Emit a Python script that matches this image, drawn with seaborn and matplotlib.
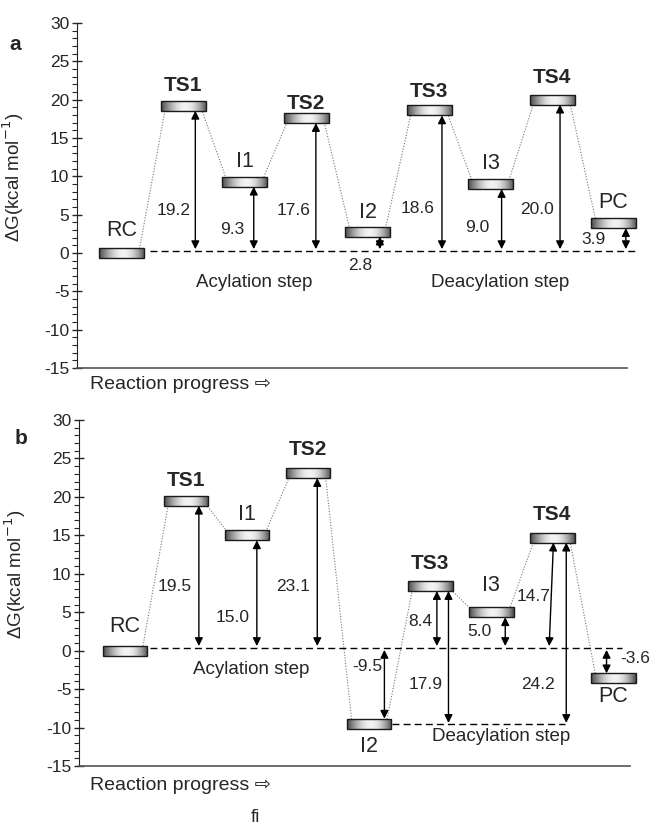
import numpy as np
import matplotlib
matplotlib.use("Agg")
import matplotlib.pyplot as plt
import seaborn as sns
from matplotlib.patches import Rectangle

# species along the reaction coordinate
species = ["RC", "TS1", "I1", "TS2", "I2", "TS3", "I3", "TS4", "PC"]

# free energies (kcal/mol) for the two panels
energy_a = [0.0, 19.2, 9.3, 17.6, 2.8, 18.6, 9.0, 20.0, 3.9]
energy_b = [0.0, 19.5, 15.0, 23.1, -9.5, 8.4, 5.0, 14.7, -3.6]

# extra barriers in panel b measured from I2
barrier_species_b = ["TS3", "TS4"]
barrier_values_b = [17.9, 24.2]

step_labels = ["Acylation step", "Deacylation step"]

sns.set_style("ticks")
plt.rcParams["font.family"] = ["Liberation Sans", "DejaVu Sans"]
plt.rcParams["axes.unicode_minus"] = False

fig = plt.figure(figsize=(6.5, 8.27), dpi=100)
ax_a = fig.add_axes([77 / 650, 1 - 368 / 827, 563 / 650, 345 / 827])
ax_b = fig.add_axes([79 / 650, 1 - 766 / 827, 566 / 650, 346 / 827])

HW = 0.366   # half width of a level bar
HH = 0.65    # half height of a level bar

t = np.linspace(0, 1, 64)
shade = 0.3 + 0.65 * np.sin(np.pi * t ** 1.1) ** 0.9
grad = shade[np.newaxis, :]


def draw_level(ax, x, y):
    ax.imshow(grad, extent=[x - HW, x + HW, y - HH, y + HH], aspect="auto",
              cmap="gray", vmin=0, vmax=1, zorder=3, interpolation="bilinear")
    ax.add_patch(Rectangle((x - HW, y - HH), 2 * HW, 2 * HH, fill=False,
                           edgecolor="#1a1a1a", lw=1.0, zorder=4))


def arrow(ax, x0, y0, x1, y1):
    ax.annotate("", xy=(x1, y1), xytext=(x0, y0),
                arrowprops=dict(arrowstyle="<|-|>", color="black", lw=1.0,
                                mutation_scale=12, shrinkA=0, shrinkB=0),
                zorder=5)


def setup(ax, xlim, spine_end):
    ax.set_xlim(*xlim)
    ax.set_ylim(-15, 30)
    ax.set_yticks(np.arange(-15, 31, 5))
    ax.set_yticks(np.arange(-15, 31, 1), minor=True)
    ax.set_xticks([])
    ax.tick_params(axis="y", which="major", direction="inout", length=7,
                   width=1, labelsize=12.5, pad=2)
    ax.tick_params(axis="y", which="minor", direction="out", length=3.5, width=0.8)
    for s in ["top", "right"]:
        ax.spines[s].set_visible(False)
    ax.spines["left"].set_color("#222222")
    ax.spines["bottom"].set_color("#555555")
    ax.spines["bottom"].set_linewidth(1.2)
    ax.spines["bottom"].set_bounds(xlim[0], spine_end)
    ax.set_ylabel("ΔG(kcal mol$^{-1}$)", fontsize=13.5)


def draw_panel(ax, energy, name_y):
    xs = np.arange(len(species))
    px, py = [], []
    for x, e in zip(xs, energy):
        px += [x - 0.28, x + 0.28]
        py += [e, e]
    sns.lineplot(x=px, y=py, ax=ax, sort=False, estimator=None, color="#777777",
                 lw=0.8, linestyle=(0, (1, 1.5)), zorder=1)
    for x, e, name, ny in zip(xs, energy, species, name_y):
        draw_level(ax, x, e)
        bold = name.startswith("TS")
        ax.text(x, ny, name, ha="center", va="center",
                fontsize=15 if bold else 15.5,
                fontweight="bold" if bold else "normal", zorder=6)


# ---------------- panel a ----------------
setup(ax_a, (-0.724, 8.43), 8.22)
name_y_a = [3.0, 21.9, 11.9, 19.5, 5.3, 21.1, 11.7, 22.9, 6.6]
draw_panel(ax_a, energy_a, name_y_a)
ax_a.plot([0.46, 8.35], [0.3, 0.3], color="black", lw=1.0,
          linestyle=(0, (5, 3)), zorder=2)
arrow_dx_a = [0.2, 0.15, 0.16, 0.2, 0.21, 0.18, 0.13, 0.2]
val_pos_a = [(0.84, 5.6), (1.8, 3.1), (2.8, 5.5), (3.88, -1.6), (4.82, 5.8),
             (5.78, 3.3), (6.76, 5.7), (7.68, 1.8)]
for i, (dx, (tx, ty)) in enumerate(zip(arrow_dx_a, val_pos_a), start=1):
    e = energy_a[i]
    arrow(ax_a, i + dx, 0.5, i + dx, e - HH)
    ax_a.text(tx, ty, f"{e:.1f}", ha="center", va="center", fontsize=12.5, zorder=6)
ax_a.text(2.15, -3.9, step_labels[0], ha="center", va="center", fontsize=13.5)
ax_a.text(6.15, -3.9, step_labels[1], ha="center", va="center", fontsize=13.5)
ax_a.text(0.023, -0.049, "Reaction progress ⇨", transform=ax_a.transAxes,
          ha="left", va="center", fontsize=14)

# ---------------- panel b ----------------
setup(ax_b, (-0.754, 8.52), 8.28)
name_y_b = [3.1, 22.1, 17.7, 26.1, -12.5, 11.3, 8.5, 17.7, -5.9]
draw_panel(ax_b, energy_b, name_y_b)
e_i2 = energy_b[species.index("I2")]
ax_b.plot([0.41, 8.15], [0.3, 0.3], color="black", lw=1.0,
          linestyle=(0, (5, 3)), zorder=2)
ax_b.plot([4.38, 7.21], [e_i2, e_i2], color="black", lw=1.0,
          linestyle=(0, (5, 3)), zorder=2)

arrow_x_b = [(1.21, 1.21), (2.16, 2.16), (3.15, 3.15), (4.25, 4.25),
             (5.11, 5.11), (6.23, 6.23), (6.95, 7.02), (7.89, 7.89)]
val_pos_b = [(0.82, 8.3), (1.77, 4.3), (2.75, 8.3), (3.97, -2.1), (4.84, 3.8),
             (5.8, 2.5), (6.69, 7.0), (8.36, -1.0)]
for i, ((xb, xt), (tx, ty)) in enumerate(zip(arrow_x_b, val_pos_b), start=1):
    e = energy_b[i]
    if e > 0:
        arrow(ax_b, xb, 0.6, xt, e - HH)
    else:
        arrow(ax_b, xb, 0.1, xt, e + HH)
    ax_b.text(tx, ty, f"{e:.1f}", ha="center", va="center", fontsize=12.5,
              zorder=6, clip_on=False)

barrier_x_b = [5.30, 7.23]
barrier_pos_b = [(4.92, -4.4), (6.77, -4.4)]
for name, val, bx, (tx, ty) in zip(barrier_species_b, barrier_values_b,
                                   barrier_x_b, barrier_pos_b):
    e = energy_b[species.index(name)]
    arrow(ax_b, bx, e_i2 + 0.1, bx, e - HH)
    ax_b.text(tx, ty, f"{val:.1f}", ha="center", va="center", fontsize=12.5, zorder=6)

ax_b.text(2.07, -2.4, step_labels[0], ha="center", va="center", fontsize=13.5)
ax_b.text(6.16, -11.2, step_labels[1], ha="center", va="center", fontsize=13.5)
ax_b.text(0.019, -0.055, "Reaction progress ⇨", transform=ax_b.transAxes,
          ha="left", va="center", fontsize=14)

for ax in (ax_a, ax_b):
    ax.yaxis.set_label_coords(-0.09, 0.553)

fig.text(15 / 650, 1 - 44 / 827, "a", fontsize=15, fontweight="bold",
         ha="center", va="center")
fig.text(21 / 650, 1 - 438 / 827, "b", fontsize=15, fontweight="bold",
         ha="center", va="center")
fig.text(255 / 650, 1 - 818 / 827, "fi", fontsize=13.5, ha="center", va="center")

fig.savefig("out.png", dpi=100)
